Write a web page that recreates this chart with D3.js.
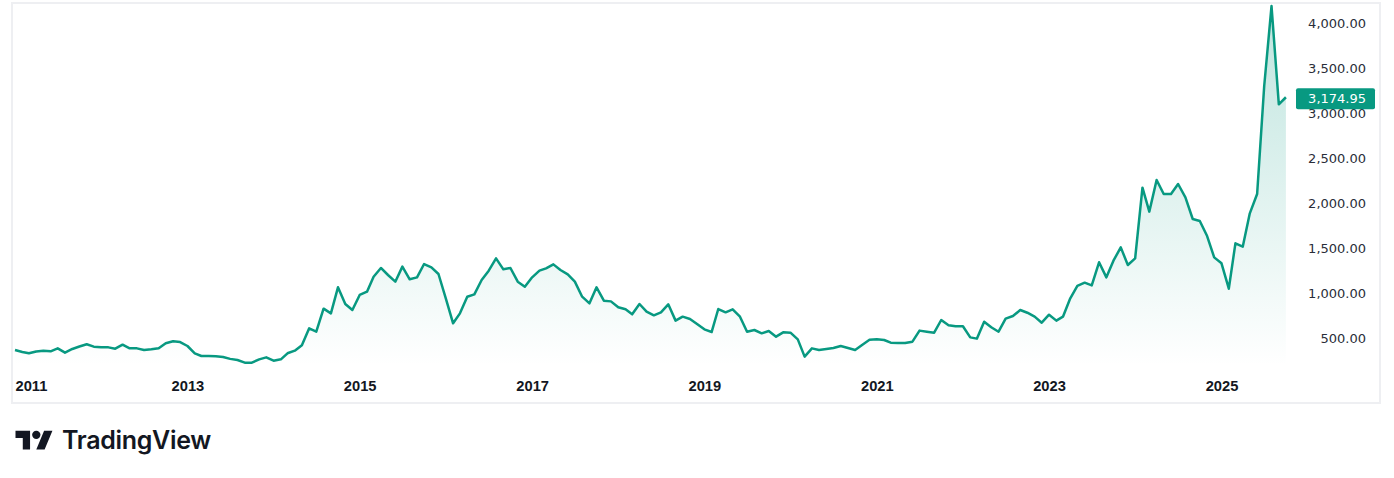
<!DOCTYPE html>
<html>
<head>
<meta charset="utf-8">
<script src="https://cdn.jsdelivr.net/npm/d3@7"></script>
<style>
  html, body { margin: 0; padding: 0; background: #fff; }
  svg { display: block; }
</style>
</head>
<body>
<div id="chart"></div>
<script>
// monthly closes, Jan 2011 .. Oct 2025
const START_YEAR = 2011
const START_MONTH = 0
const closes = [
  367, 345, 330, 350, 359, 352, 385, 337, 378, 405, 430, 404,
  398, 396, 381, 426, 385, 385, 367, 375, 385, 441, 463, 455,
  411, 330, 300, 300, 298, 288, 268, 255, 226, 226, 263, 285,
  248, 263, 330, 359, 419, 607, 570, 826, 774, 1063, 878, 811,
  978, 1015, 1181, 1278, 1200, 1126, 1293, 1152, 1174, 1322, 1285, 1211,
  941, 663, 774, 959, 985, 1144, 1248, 1385, 1263, 1278, 1126, 1070,
  1174, 1248, 1274, 1318, 1256, 1207, 1126, 959, 885, 1063, 915, 907,
  841, 819, 763, 878, 793, 752, 785, 874, 693, 737, 711, 656,
  596, 567, 822, 785, 819, 737, 570, 589, 552, 578, 515, 563,
  559, 485, 293, 385, 367, 378, 389, 411, 389, 367, 426, 480,
  485, 478, 448, 444, 444, 459, 582, 570, 559, 700, 641, 630,
  630, 507, 493, 681, 619, 570, 715, 744, 811, 781, 737, 670,
  759, 693, 737, 941, 1078, 1115, 1085, 1341, 1174, 1359, 1507, 1311,
  1385, 2170, 1904, 2256, 2100, 2100, 2211, 2063, 1822, 1800, 1633, 1396,
  1330, 1048, 1552, 1515, 1885, 2100, 3300, 4189, 3096, 3174.95
]
const priceTicks = [500, 1000, 1500, 2000, 2500, 3000, 3500, 4000]
const yearTicks = [2011, 2013, 2015, 2017, 2019, 2021, 2023, 2025]
const lastLabel = "3,174.95"

const width = 1394, height = 478
const GREEN = "#089981"

const data = closes.map((v, i) => ({ date: new Date(START_YEAR, START_MONTH + i, 1), value: v }))

const svg = d3.select("#chart").append("svg")
  .attr("width", width).attr("height", height)
  .attr("viewBox", `0 0 ${width} ${height}`)

// frame
svg.append("rect")
  .attr("x", 12).attr("y", 3).attr("width", 1368).attr("height", 400)
  .attr("fill", "none").attr("stroke", "#eeeff2").attr("stroke-width", 2)

const x = d3.scaleTime()
  .domain([new Date(2011, 0, 1), new Date(2025, 0, 1)])
  .range([15, 1221.5])
const y = d3.scaleLinear()
  .domain([0, 4000])
  .range([383, 23])

const paneBottom = 366

const defs = svg.append("defs")
const grad = defs.append("linearGradient")
  .attr("id", "areaFill")
  .attr("gradientUnits", "userSpaceOnUse")
  .attr("x1", 0).attr("x2", 0)
  .attr("y1", y(d3.max(closes))).attr("y2", paneBottom)
grad.append("stop").attr("offset", 0).attr("stop-color", GREEN).attr("stop-opacity", 0.26)
grad.append("stop").attr("offset", 1).attr("stop-color", GREEN).attr("stop-opacity", 0.0)

const area = d3.area()
  .x(d => x(d.date))
  .y0(paneBottom)
  .y1(d => y(d.value))
const line = d3.line()
  .x(d => x(d.date))
  .y(d => y(d.value))

svg.append("path").datum(data)
  .attr("d", area)
  .attr("fill", "url(#areaFill)")

svg.append("path").datum(data)
  .attr("d", line)
  .attr("fill", "none")
  .attr("stroke", GREEN)
  .attr("stroke-width", 2.5)
  .attr("stroke-linejoin", "round")

// price axis (right)
const yAxis = svg.append("g")
  .attr("transform", `translate(1366,0)`)
  .call(d3.axisRight(y).tickValues(priceTicks).tickSize(0).tickPadding(0)
    .tickFormat(d3.format(",.2f")))
yAxis.select(".domain").remove()
yAxis.selectAll("text")
  .attr("text-anchor", "end")
  .attr("font-family", "'DejaVu Sans', sans-serif")
  .attr("font-size", 13)
  .attr("fill", "#2a2e39")

// time axis (bottom)
const xAxis = svg.append("g")
  .attr("transform", `translate(0,391)`)
  .call(d3.axisBottom(x).tickValues(yearTicks.map(yr => new Date(yr, 0, 1))).tickSize(0).tickPadding(0)
    .tickFormat(d3.timeFormat("%Y")))
xAxis.select(".domain").remove()
xAxis.selectAll("text")
  .attr("font-family", "'Liberation Sans', Arial, sans-serif")
  .attr("font-weight", "bold")
  .attr("font-size", 14.7)
  .attr("fill", "#131722")
  .attr("y", 0)
  .attr("dy", 0)
  .each(function() {
    // keep first label inside the pane, like TradingView does
    const t = d3.select(this)
    const half = this.getComputedTextLength() / 2
    const tx = x(new Date(yearTicks[0], 0, 1))
    if (t.datum().getFullYear() === yearTicks[0] && tx - half < 15) t.attr("x", 15 - tx + half)
  })

// last price label
const lastY = y(closes[closes.length - 1])
svg.append("rect")
  .attr("x", 1296).attr("y", lastY - 9).attr("width", 79).attr("height", 21)
  .attr("rx", 2)
  .attr("fill", GREEN)
svg.append("text")
  .attr("x", 1366).attr("y", lastY + 1.5)
  .attr("dy", "0.32em")
  .attr("text-anchor", "end")
  .attr("font-family", "'DejaVu Sans', sans-serif")
  .attr("font-size", 13)
  .attr("fill", "#fff")
  .text(lastLabel)

// TradingView logo
const logo = svg.append("g").attr("transform", "translate(15.5,426.5) scale(1.04)")
logo.append("path").attr("d", "M14 22H7V11H0V4h14v18zM28 22h-8l7.5-18h8L28 22z").attr("fill", "#131722")
logo.append("circle").attr("cx", 20).attr("cy", 8).attr("r", 4).attr("fill", "#131722")
svg.append("text")
  .attr("x", 62).attr("y", 449)
  .attr("font-family", "Inter, sans-serif")
  .attr("font-weight", 600)
  .attr("font-size", 25)
  .attr("letter-spacing", -0.3)
  .attr("fill", "#131722")
  .text("TradingView")
</script>
</body>
</html>
